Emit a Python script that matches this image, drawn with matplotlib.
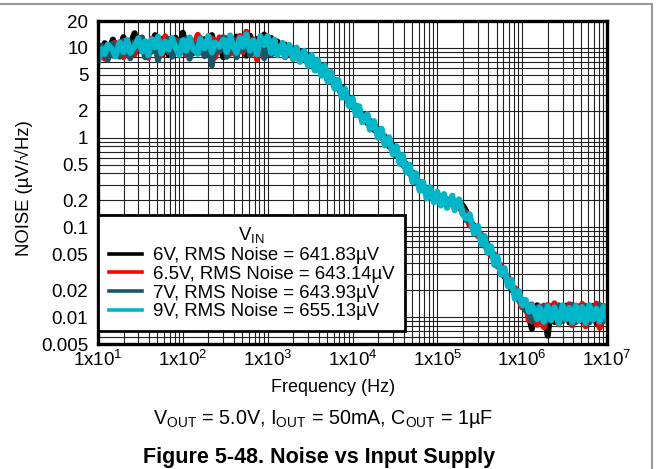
import matplotlib
matplotlib.use("Agg")
import matplotlib.pyplot as plt
from matplotlib.lines import Line2D
from matplotlib.ticker import FixedLocator, NullFormatter, LogLocator

plt.rcParams['font.family'] = ['Liberation Sans', 'DejaVu Sans']
plt.rcParams['mathtext.fontset'] = 'custom'
plt.rcParams['mathtext.rm'] = 'Liberation Sans'
plt.rcParams['mathtext.it'] = 'Liberation Sans'

# frequency grid (E24 steps per decade), Hz
MANT = [1.0, 1.1, 1.2, 1.3, 1.5, 1.6, 1.8, 2.0, 2.2, 2.4, 2.7, 3.0,
        3.3, 3.6, 3.9, 4.3, 4.7, 5.1, 5.6, 6.2, 6.8, 7.5, 8.2, 9.1]
freq = [m * 10.0 ** d for d in range(1, 7) for m in MANT] + [1e7]

# noise density, uV/rtHz, one row per decade
noise_6v = (
    [9.5, 8.2, 11.3, 9.0, 12.4, 8.6, 10.1, 13.2, 8.9, 11.0, 14.6, 9.3, 12.0, 8.1, 11.4, 9.7, 13.9, 8.8, 12.6, 10.0, 8.4, 11.7, 13.0, 9.2]
    + [14.8, 9.6, 11.8, 8.7, 13.3, 10.2, 12.5, 8.4, 13.9, 9.8, 11.2, 7.9, 12.8, 10.5, 8.9, 13.4, 9.5, 11.9, 8.2, 13.7, 10.7, 12.6, 9.1, 14.1]
    + [9.2, 12.9, 8.8, 11.8, 9.5, 10.9, 8.5, 9.9, 8.0, 9.1, 7.4, 8.2, 6.6, 7.3, 5.9, 6.3, 5.1, 5.3, 4.3, 4.4, 3.5, 3.6, 2.8, 2.8]
    + [2.2, 2.25, 1.8, 1.85, 1.45, 1.55, 1.22, 1.26, 1.0, 1.03, 0.8, 0.82, 0.63, 0.64, 0.5, 0.51, 0.4, 0.41, 0.32, 0.32, 0.26, 0.26, 0.22, 0.235]
    + [0.2, 0.22, 0.19, 0.205, 0.18, 0.195, 0.165, 0.175, 0.15, 0.115, 0.105, 0.083, 0.08, 0.064, 0.064, 0.049, 0.048, 0.037, 0.037, 0.028, 0.027, 0.02, 0.02, 0.0155]
    + [0.0155, 0.0125, 0.0105, 0.0074, 0.0135, 0.0112, 0.0125, 0.0062, 0.0132, 0.0088, 0.0121, 0.0093, 0.0134, 0.0087, 0.0126, 0.0095, 0.0131, 0.0089, 0.0124, 0.0092, 0.0133, 0.0086, 0.0127, 0.0094]
    + [0.0115]
)
noise_6v5 = (
    [10.8, 9.1, 7.6, 10.4, 8.2, 11.5, 9.4, 7.9, 12.1, 10.0, 8.5, 13.0, 9.2, 11.3, 7.8, 12.7, 9.9, 11.1, 8.3, 13.5, 9.0, 10.8, 12.2, 8.6]
    + [11.6, 8.4, 12.9, 9.7, 14.0, 8.9, 11.4, 10.1, 12.8, 7.9, 13.1, 9.6, 11.7, 8.6, 12.3, 10.9, 13.6, 9.0, 15.2, 8.8, 12.4, 7.5, 11.9, 9.9]
    + [12.0, 8.9, 11.5, 9.7, 10.5, 7.9, 10.0, 7.6, 9.2, 7.2, 8.3, 6.6, 7.4, 5.9, 6.6, 5.1, 5.6, 4.4, 4.7, 3.6, 3.8, 2.9, 3.1, 2.4]
    + [2.45, 1.9, 2.0, 1.6, 1.62, 1.32, 1.36, 1.05, 1.12, 0.86, 0.9, 0.69, 0.72, 0.54, 0.6, 0.43, 0.45, 0.34, 0.38, 0.27, 0.3, 0.24, 0.24, 0.215]
    + [0.225, 0.195, 0.21, 0.18, 0.2, 0.165, 0.185, 0.14, 0.145, 0.105, 0.1, 0.08, 0.083, 0.062, 0.065, 0.048, 0.05, 0.038, 0.038, 0.029, 0.028, 0.021, 0.021, 0.016]
    + [0.0128, 0.0145, 0.0092, 0.0138, 0.0082, 0.0131, 0.0077, 0.0136, 0.0095, 0.0142, 0.0083, 0.0127, 0.0096, 0.0139, 0.0081, 0.0134, 0.0094, 0.014, 0.0079, 0.0129, 0.0097, 0.0141, 0.0076, 0.0133]
    + [0.0125]
)
noise_7v = (
    [8.1, 10.6, 9.3, 7.4, 11.2, 9.8, 8.0, 12.0, 9.5, 7.7, 11.6, 10.2, 13.1, 7.9, 10.8, 9.1, 12.3, 7.3, 11.0, 9.4, 12.6, 8.0, 10.5, 12.0]
    + [9.0, 12.6, 7.6, 11.3, 9.4, 13.0, 8.1, 12.1, 6.4, 11.8, 9.2, 13.2, 8.0, 10.9, 12.5, 7.9, 11.4, 9.6, 13.0, 8.3, 11.2, 9.7, 12.2, 7.7]
    + [11.0, 8.4, 12.2, 8.6, 10.7, 8.8, 9.4, 8.0, 9.0, 7.4, 8.1, 6.8, 7.2, 6.0, 6.4, 5.3, 5.5, 4.5, 4.6, 3.7, 3.7, 3.0, 2.95, 2.45]
    + [2.4, 2.05, 1.95, 1.7, 1.6, 1.4, 1.33, 1.14, 1.1, 0.94, 0.88, 0.76, 0.7, 0.6, 0.56, 0.47, 0.44, 0.37, 0.36, 0.29, 0.28, 0.25, 0.23, 0.22]
    + [0.21, 0.2, 0.2, 0.19, 0.19, 0.18, 0.175, 0.16, 0.12, 0.125, 0.097, 0.09, 0.075, 0.07, 0.059, 0.054, 0.046, 0.041, 0.034, 0.031, 0.025, 0.023, 0.0185, 0.017]
    + [0.0142, 0.0118, 0.0136, 0.0089, 0.0128, 0.0097, 0.0134, 0.0091, 0.0127, 0.0099, 0.0135, 0.009, 0.0129, 0.0098, 0.0137, 0.0088, 0.0126, 0.0101, 0.0133, 0.0087, 0.0128, 0.0096, 0.0136, 0.009]
    + [0.011]
)
noise_9v = (
    [7.0, 9.8, 8.6, 10.9, 9.4, 8.1, 11.6, 9.0, 12.3, 8.8, 10.4, 12.8, 9.1, 11.9, 8.3, 12.5, 10.2, 13.4, 8.7, 11.8, 9.6, 12.9, 10.1, 8.4]
    + [12.2, 9.3, 13.1, 10.0, 8.6, 12.7, 9.9, 13.6, 8.9, 11.5, 10.3, 12.4, 9.0, 13.8, 10.6, 8.8, 12.9, 10.4, 14.2, 9.4, 12.1, 8.5, 13.5, 10.8]
    + [13.6, 8.8, 12.4, 8.3, 11.4, 8.0, 10.8, 7.5, 10.1, 7.0, 9.3, 6.3, 8.4, 5.6, 7.4, 4.9, 6.4, 4.2, 5.4, 3.5, 4.4, 2.8, 3.5, 2.25]
    + [2.75, 1.78, 2.24, 1.49, 1.83, 1.23, 1.53, 1.0, 1.26, 0.82, 1.01, 0.65, 0.8, 0.51, 0.64, 0.41, 0.5, 0.32, 0.4, 0.255, 0.32, 0.21, 0.28, 0.19]
    + [0.25, 0.175, 0.235, 0.165, 0.225, 0.155, 0.205, 0.14, 0.125, 0.14, 0.085, 0.104, 0.065, 0.08, 0.052, 0.061, 0.038, 0.047, 0.03, 0.035, 0.022, 0.026, 0.016, 0.0195]
    + [0.0135, 0.0155, 0.0115, 0.0135, 0.0095, 0.0128, 0.0088, 0.0132, 0.0092, 0.0128, 0.0085, 0.0135, 0.0094, 0.0126, 0.0087, 0.0133, 0.0091, 0.0129, 0.0086, 0.0136, 0.0093, 0.0124, 0.0089, 0.0131]
    + [0.0095]
)

labels = ["6V, RMS Noise = 641.83µV", "6.5V, RMS Noise = 643.14µV",
          "7V, RMS Noise = 643.93µV", "9V, RMS Noise = 655.13µV"]
colors = ["#000000", "#ff0000", "#1b5566", "#00b6c9"]

y_ticks = [0.005, 0.01, 0.02, 0.05, 0.1, 0.2, 0.5, 1, 2, 5, 10, 20]
y_tick_labels = ["0.005", "0.01", "0.02", "0.05", "0.1", "0.2", "0.5", "1", "2", "5", "10", "20"]
x_ticks = [1e1, 1e2, 1e3, 1e4, 1e5, 1e6, 1e7]
x_tick_labels = ["1x10$^{%d}$" % e for e in range(1, 8)]

fig = plt.figure(figsize=(6.56, 4.69), dpi=100)
ax = fig.add_axes([98 / 656, 1 - 344 / 469, 509 / 656, 323 / 469])

for vals, c, lab in zip([noise_6v, noise_6v5, noise_7v, noise_9v], colors, labels):
    ax.plot(freq, vals, color=c, lw=4.4, label=lab, zorder=3)

ax.set_xscale("log")
ax.set_yscale("log")
ax.set_xlim(10, 1e7)
ax.set_ylim(0.005, 20)

ax.xaxis.set_major_locator(FixedLocator(x_ticks))
ax.set_xticklabels(x_tick_labels)
ax.xaxis.set_minor_locator(LogLocator(base=10, subs=range(2, 10)))
ax.xaxis.set_minor_formatter(NullFormatter())
ax.yaxis.set_major_locator(FixedLocator(y_ticks))
ax.set_yticklabels(y_tick_labels)
ax.yaxis.set_minor_locator(LogLocator(base=10, subs=range(1, 10)))
ax.yaxis.set_minor_formatter(NullFormatter())

ax.tick_params(which="both", length=0, labelsize=13.5)
ax.tick_params(axis="y", pad=7)
ax.tick_params(axis="x", pad=4)
ax.grid(True, which="both", color="#202020", lw=0.8, zorder=1)
for s in ax.spines.values():
    s.set_linewidth(2.4)
    s.set_zorder(5)

ax.set_xlabel("Frequency (Hz)", fontsize=13)
ax.xaxis.set_label_coords(0.462, -0.108)
ax.set_ylabel("NOISE (µV/√Hz)", fontsize=13.3)
ax.yaxis.set_label_coords(-0.127, 0.483)

leg = ax.legend(loc="lower left", bbox_to_anchor=(0.0, 0.04), borderaxespad=0,
                fontsize=13.4, title="V$_{\\mathrm{IN}}$", title_fontsize=13.4,
                frameon=True, fancybox=False, edgecolor="black", framealpha=1,
                handlelength=1.8, handletextpad=0.55, labelspacing=0.09,
                borderpad=0.58)
leg.get_frame().set_linewidth(2.0)
leg.set_zorder(6)
for h in leg.get_lines():
    h.set_linewidth(2.6)

fig.text(0.492, 1 - 419 / 469, "V$_{\\mathrm{OUT}}$ = 5.0V, I$_{\\mathrm{OUT}}$ = 50mA, C$_{\\mathrm{OUT}}$ = 1µF",
         ha="center", va="center", fontsize=14.2)
fig.text(0.486, 1 - 457 / 469, "Figure 5-48. Noise vs Input Supply",
         ha="center", va="center", fontsize=15.5, fontweight="bold")

# outer frame of the figure panel
fig.add_artist(Line2D([0, 652 / 656], [1 - 4 / 469, 1 - 4 / 469], color="#999999", lw=1.5))
fig.add_artist(Line2D([652 / 656, 652 / 656], [0, 1 - 4 / 469], color="#999999", lw=1.5))

fig.savefig("out.png", dpi=100)
